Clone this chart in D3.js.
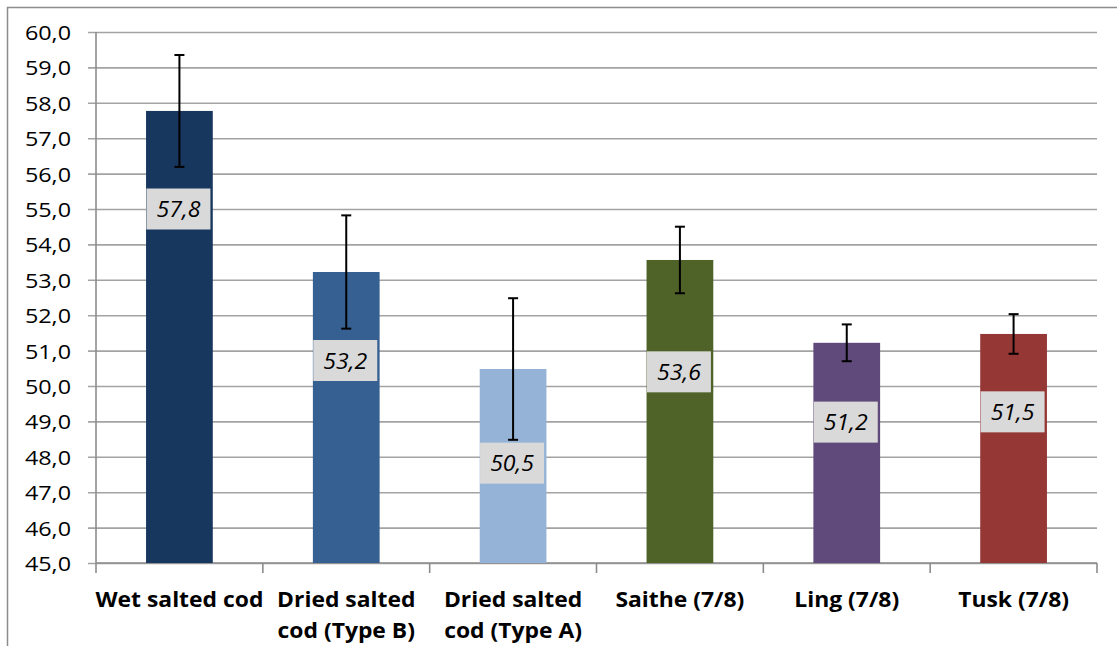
<!DOCTYPE html>
<html>
<head>
<meta charset="utf-8">
<script src="https://cdn.jsdelivr.net/npm/d3@7"></script>
<style>
  body { margin: 0; background: #fff; }
  svg { display: block; font-family: 'Open Sans', sans-serif; }
</style>
</head>
<body>
<div id="chart"></div>
<script>
// data
const categories = [
  ['Wet salted cod'],
  ['Dried salted', 'cod (Type B)'],
  ['Dried salted', 'cod (Type A)'],
  ['Saithe (7/8)'],
  ['Ling (7/8)'],
  ['Tusk (7/8)']
];
const values = [57.77, 53.22, 50.48, 53.56, 51.22, 51.47];
const errors = [1.58, 1.6, 2.0, 0.94, 0.52, 0.56];
const barColors = ['#17375e', '#376092', '#95b3d7', '#4f6228', '#604a7b', '#953735'];
// where each value label box sits (value units, moved by hand in the original)
const labelAt = [55.0, 50.72, 47.82, 50.4, 48.98, 49.27];
const yTicks = d3.range(45, 60.01, 1);

///////// Initialization //////////
const W = 1117, H = 646;
const margin = { top: 32, right: 20, bottom: 83, left: 96 };
const width = 1097 - margin.left;
const height = 563 - margin.top;
const stretch = 1.14; // the picture is a bit wider than tall

const svg = d3.select('#chart')
  .append('svg')
  .attr('width', W)
  .attr('height', H);

// outer chart frame (runs off the right and bottom)
svg.append('rect')
  .attr('x', 7.5).attr('y', 7.5)
  .attr('width', W + 50).attr('height', H + 50)
  .attr('fill', 'none')
  .attr('stroke', '#8c8c8c')
  .attr('stroke-width', 1.5);

const group = svg.append('g')
  .attr('transform', 'translate(' + margin.left + ',' + margin.top + ')');

const ids = categories.map((d, i) => i);
const xScale = d3.scaleBand().domain(ids).range([0, width]).padding(0);
const yScale = d3.scaleLinear().domain([45, 60]).range([height, 0]);

// y axis with gridlines
const yAxis = d3.axisLeft(yScale)
  .tickValues(yTicks)
  .tickSize(-width)
  .tickFormat(d => d3.format('.1f')(d).replace('.', ','));

const yAxisGroup = group.append('g').attr('class', 'y-axis').call(yAxis);
yAxisGroup.select('.domain').remove();
yAxisGroup.selectAll('line')
  .attr('x1', -8)
  .attr('stroke', '#a3a3a3')
  .attr('stroke-width', 1.6);
yAxisGroup.selectAll('text')
  .attr('x', -25 / stretch)
  .attr('dy', 7.5)
  .attr('transform', 'scale(' + stretch + ',1)')
  .attr('fill', '#000')
  .style('font-size', '20.5px')
  .style('font-family', "'Open Sans', sans-serif");

// axis lines
group.append('line')
  .attr('x1', 0).attr('x2', 0).attr('y1', 0).attr('y2', height)
  .attr('stroke', '#8c8c8c').attr('stroke-width', 1.6);
group.append('line')
  .attr('x1', 0).attr('x2', width).attr('y1', height).attr('y2', height)
  .attr('stroke', '#8c8c8c').attr('stroke-width', 1.6);

// x ticks at band edges
const edges = ids.map(i => xScale(i)).concat([width]);
group.selectAll('.x-tick')
  .data(edges)
  .enter()
  .append('line')
  .attr('class', 'x-tick')
  .attr('x1', d => d).attr('x2', d => d)
  .attr('y1', height).attr('y2', height + 10)
  .attr('stroke', '#8c8c8c').attr('stroke-width', 1.6);

// bars
const barW = xScale.bandwidth() * 0.4;
const cx = i => xScale(i) + xScale.bandwidth() / 2;

group.selectAll('.bar')
  .data(ids)
  .enter()
  .append('rect')
  .attr('class', 'bar')
  .attr('x', i => cx(i) - barW / 2)
  .attr('y', i => yScale(values[i]))
  .attr('width', barW)
  .attr('height', i => height - yScale(values[i]))
  .attr('fill', i => barColors[i]);

// error bars
const err = group.selectAll('.err')
  .data(ids)
  .enter()
  .append('g')
  .attr('class', 'err')
  .attr('stroke', '#000')
  .attr('stroke-width', 2);
err.append('line')
  .attr('x1', i => cx(i)).attr('x2', i => cx(i))
  .attr('y1', i => yScale(values[i] + errors[i]))
  .attr('y2', i => yScale(values[i] - errors[i]));
[1, -1].forEach(s => {
  err.append('line')
    .attr('x1', i => cx(i) - 5).attr('x2', i => cx(i) + 5)
    .attr('y1', i => yScale(values[i] + s * errors[i]))
    .attr('y2', i => yScale(values[i] + s * errors[i]));
});

// value labels
const lab = group.selectAll('.val')
  .data(ids)
  .enter()
  .append('g')
  .attr('class', 'val')
  .attr('transform', i => 'translate(' + (cx(i) - 1) + ',' + yScale(labelAt[i]) + ')');
lab.append('rect')
  .attr('x', -32).attr('y', -20.5)
  .attr('width', 64).attr('height', 41)
  .attr('fill', '#d9d9d9');
lab.append('text')
  .attr('text-anchor', 'middle')
  .attr('y', 8)
  .attr('transform', 'scale(1.1,1)')
  .style('font-size', '21px')
  .style('font-style', 'italic')
  .attr('fill', '#000')
  .text(i => d3.format('.1f')(values[i]).replace('.', ','));

// category labels
const cat = group.selectAll('.cat')
  .data(ids)
  .enter()
  .append('text')
  .attr('class', 'cat')
  .attr('text-anchor', 'middle')
  .attr('transform', i => 'translate(' + cx(i) + ',' + (607 - margin.top) + ') scale(1.04,1)')
  .style('font-size', '22px')
  .style('font-weight', 'bold')
  .attr('fill', '#000');
cat.selectAll('tspan')
  .data(i => categories[i])
  .enter()
  .append('tspan')
  .attr('x', 0)
  .attr('dy', (d, k) => k === 0 ? 0 : 31)
  .text(d => d);
</script>
</body>
</html>
